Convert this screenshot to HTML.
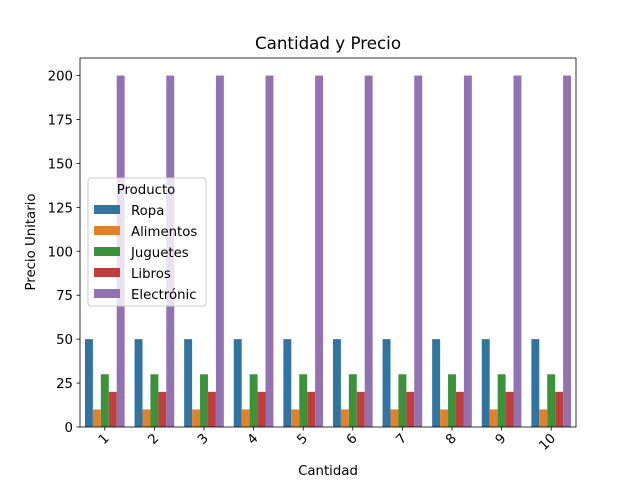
<!DOCTYPE html>
<html><head><meta charset="utf-8"><style>body{margin:0;background:#fff}svg{font-family:"DejaVu Sans","Liberation Sans",sans-serif}</style></head>
<body>
<svg id="c" width="640" height="480"></svg>
<script>
const categories=["1","2","3","4","5","6","7","8","9","10"];
const seriesNames=["Ropa","Alimentos","Juguetes","Libros","Electrónic"];
const ropa=[50,50,50,50,50,50,50,50,50,50];
const alimentos=[10,10,10,10,10,10,10,10,10,10];
const juguetes=[30,30,30,30,30,30,30,30,30,30];
const libros=[20,20,20,20,20,20,20,20,20,20];
const electronica=[200,200,200,200,200,200,200,200,200,200];
const yTicks=[0,25,50,75,100,125,150,175,200];
const colors=["#3274a1","#e1812c","#3a923a","#c03d3e","#9372b2"];
const series=[ropa,alimentos,juguetes,libros,electronica];
const L=80,R=576,T=58,B=427,ymax=210;
const ns="http://www.w3.org/2000/svg",svg=document.getElementById("c");
function y(v){return B-(v/ymax)*(B-T);}
const bw=(R-L)/categories.length;
function xc(i){return L+bw*(i+0.5);}
function el(t,a,p){const e=document.createElementNS(ns,t);for(const k in a)e.setAttribute(k,a[k]);(p||svg).appendChild(e);return e;}
series.forEach((s,j)=>{s.forEach((v,i)=>{const w=bw*0.16;const x=xc(i)+(j-2.5)*w;
const r=el("rect",{x:x,y:y(v),width:w,height:B-y(v),fill:colors[j]});

});});
const ax=el("rect",{x:L,y:T,width:R-L,height:B-T,fill:"none",stroke:"#000","stroke-width":0.8});

yTicks.forEach(v=>{el("line",{x1:L-3.5,x2:L,y1:y(v),y2:y(v),stroke:"#000","stroke-width":0.8});
const t=el("text",{x:L-7,y:y(v)+5,"text-anchor":"end","font-size":13.3});t.textContent=v;
});
categories.forEach((c,i)=>{el("line",{x1:xc(i),x2:xc(i),y1:B,y2:B+3.5,stroke:"#000","stroke-width":0.8});
const t=el("text",{x:xc(i)+5,y:B+12,"text-anchor":"end","font-size":13.3,transform:`rotate(-45 ${xc(i)+5} ${B+12})`});t.textContent=c;
});
let t=el("text",{x:328,y:49,"text-anchor":"middle","font-size":16.7});t.textContent="Cantidad y Precio";

t=el("text",{x:328,y:475,"text-anchor":"middle","font-size":13.3});t.textContent="Cantidad";

t=el("text",{x:35,y:242,"text-anchor":"middle","font-size":13.3,transform:"rotate(-90 35 242)"});t.textContent="Precio Unitario";

const g=el("g",{});
el("rect",{x:88,y:178,width:118,height:128,rx:3,fill:"#fff","fill-opacity":0.8,stroke:"#ccc"},g);
t=el("text",{x:146,y:194,"text-anchor":"middle","font-size":13.3},g);t.textContent="Producto";
seriesNames.forEach((n,j)=>{const yy=210+j*21;el("rect",{x:94,y:yy-5,width:26,height:9,fill:colors[j]},g);
const tt=el("text",{x:131,y:yy+5,"font-size":13.3},g);tt.textContent=n;
});
</script>
</body></html>
